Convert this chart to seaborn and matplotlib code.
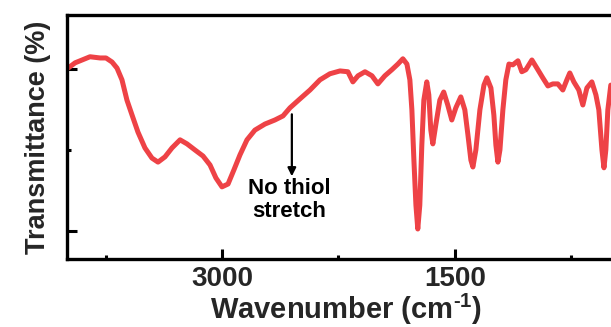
import numpy as np
import pandas as pd
import matplotlib
matplotlib.use("Agg")
import matplotlib.pyplot as plt
from matplotlib.ticker import MultipleLocator, AutoMinorLocator
import seaborn as sns

# Data (wavenumber in cm-1, transmittance in arbitrary %)
wavenumber = [3991, 3946, 3901, 3850, 3785, 3747, 3708, 3676, 3644, 3612,
              3579, 3541, 3496, 3451, 3412, 3367, 3322, 3270, 3225, 3174,
              3122, 3077, 3039, 3000, 2961, 2923, 2884, 2839, 2788, 2723,
              2659, 2607, 2562, 2498, 2433, 2369, 2305, 2240, 2189, 2157,
              2124, 2079, 2034, 1996, 1951, 1906, 1867, 1835, 1809, 1790,
              1777, 1764, 1751, 1739, 1726, 1713, 1700, 1681, 1668, 1655,
              1642, 1623, 1597, 1572, 1546, 1520, 1494, 1462, 1436, 1416,
              1397, 1384, 1365, 1339, 1313, 1294, 1268, 1249, 1236, 1223,
              1210, 1191, 1172, 1152, 1127, 1094, 1069, 1043, 1004, 972,
              934, 901, 869, 837, 805, 779, 760, 734, 702, 676,
              650, 618, 592, 573, 553, 540, 528, 515, 496]
transmittance = [60.2, 61.5, 62.2, 63.0, 62.7, 62.7, 61.7, 60.2, 57.3, 52.3,
                 48.6, 44.4, 40.5, 38.0, 37.0, 38.3, 40.5, 42.5, 41.5, 40.0,
                 38.5, 36.3, 33.1, 30.9, 31.6, 35.1, 38.8, 42.5, 44.9, 46.4,
                 47.4, 48.4, 50.4, 52.6, 54.8, 57.3, 58.8, 59.5, 59.3, 56.8,
                 58.3, 59.3, 58.3, 56.3, 58.3, 59.8, 61.2, 62.5, 61.2, 57.3,
                 49.9, 37.5, 26.4, 20.5, 26.4, 41.2, 52.3, 56.8, 53.6, 44.9,
                 41.5, 46.2, 52.3, 54.3, 51.1, 47.4, 50.4, 53.1, 49.9, 43.7,
                 37.5, 35.8, 40.0, 49.9, 56.0, 57.8, 55.3, 48.6, 41.2, 37.0,
                 40.0, 49.9, 57.3, 61.2, 61.0, 62.0, 59.3, 59.8, 62.2, 60.2,
                 57.8, 55.8, 56.3, 56.3, 54.8, 57.3, 59.0, 56.8, 54.8, 51.1,
                 55.3, 56.8, 53.6, 49.9, 40.0, 35.6, 40.0, 49.9, 56.0]

annotation_text = "No thiol\nstretch"
arrow_wavenumber = 2550
arrow_top = 48.8
arrow_tip = 33.5

df = pd.DataFrame({"Wavenumber": wavenumber, "Transmittance": transmittance})

sns.set_theme(style="ticks")
plt.rcParams["font.family"] = ["Liberation Sans", "DejaVu Sans"]
plt.rcParams["font.weight"] = "bold"
plt.rcParams["mathtext.fontset"] = "custom"
plt.rcParams["mathtext.rm"] = "Liberation Sans:bold"
plt.rcParams["mathtext.bf"] = "Liberation Sans:bold"
plt.rcParams["mathtext.default"] = "bf"

fig = plt.figure(figsize=(6.11, 3.27), dpi=100)
W, H = 611, 327
ax = fig.add_axes([66.7 / W, (H - 259) / H, 559 / W, 244 / H])

sns.lineplot(data=df, x="Wavenumber", y="Transmittance", ax=ax,
             color="#EE4246", linewidth=3.6, sort=False, estimator=None)

ax.set_xlim(4000, 400)
ax.set_ylim(13.1, 73.3)

ax.xaxis.set_major_locator(MultipleLocator(1500))
ax.xaxis.set_minor_locator(AutoMinorLocator(2))
ax.yaxis.set_major_locator(MultipleLocator(40))
ax.yaxis.set_minor_locator(AutoMinorLocator(2))
ax.set_yticks([20, 60])
ax.set_yticklabels([])

ax.tick_params(axis="both", which="major", direction="in", length=7, width=2.2,
               labelsize=20, pad=5, color="black")
ax.tick_params(axis="both", which="minor", direction="in", length=3, width=2.2,
               color="black")
ax.tick_params(axis="y", which="both", left=True, right=False)
ax.tick_params(axis="x", which="both", bottom=True, top=False)
for lbl in ax.get_xticklabels():
    lbl.set_fontweight("bold")

for side in ["left", "bottom", "top", "right"]:
    ax.spines[side].set_linewidth(2.4)
    ax.spines[side].set_color("black")

ax.set_xlabel("Wavenumber (cm$^{\\text{-1}}$)", fontsize=21, fontweight="bold", labelpad=0)
ax.set_ylabel("Transmittance (%)", fontsize=19.5, fontweight="bold", labelpad=6)

ax.annotate("", xy=(arrow_wavenumber, arrow_tip), xytext=(arrow_wavenumber, arrow_top),
            arrowprops=dict(arrowstyle="-|>", color="black", lw=1.6,
                            mutation_scale=12, shrinkA=0, shrinkB=0))
ax.text(arrow_wavenumber + 15, arrow_tip - 0.5, annotation_text, fontsize=16,
        fontweight="bold", ha="center", va="top", linespacing=1.1, color="black")

fig.savefig("out.png", dpi=100)
